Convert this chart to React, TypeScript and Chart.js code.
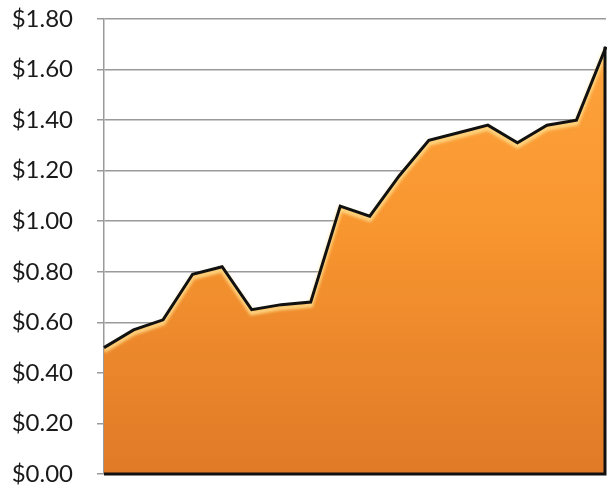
import React, { useEffect, useRef } from "react";
import { Chart, registerables } from "chart.js";

Chart.register(...registerables);

const categories = ["1", "2", "3", "4", "5", "6", "7", "8", "9", "10", "11", "12", "13", "14", "15", "16", "17", "18"];
const prices = [0.5, 0.57, 0.61, 0.79, 0.82, 0.65, 0.67, 0.68, 1.06, 1.02, 1.18, 1.32, 1.35, 1.38, 1.31, 1.38, 1.4, 1.69];
const yTicks = [0, 0.2, 0.4, 0.6, 0.8, 1.0, 1.2, 1.4, 1.6, 1.8];

const edgePlugin = {
  id: "edgePlugin",
  beforeDatasetDraw(chart: any, args: any) {
    if (args.index === 1) {
      const ctx = chart.ctx;
      ctx.save();
      const a = chart.chartArea;
      ctx.beginPath();
      ctx.rect(a.left, a.top, a.right - a.left, a.bottom - a.top);
      ctx.clip();
      ctx.translate(0, 3);
      ctx.filter = "blur(1.5px)";
    }
  },
  afterDatasetDraw(chart: any, args: any) {
    if (args.index === 1) {
      chart.ctx.restore();
    }
  },
  afterDatasetsDraw(chart: any) {
    const meta = chart.getDatasetMeta(0);
    const pts = meta.data;
    if (!pts || pts.length === 0) return;
    const first = pts[0];
    const last = pts[pts.length - 1];
    const y0 = chart.scales.y.getPixelForValue(0);
    const ctx = chart.ctx;
    ctx.save();
    ctx.strokeStyle = "#111";
    ctx.lineWidth = 3;
    ctx.lineJoin = "miter";
    ctx.beginPath();
    ctx.moveTo(last.x - 1, last.y);
    ctx.lineTo(last.x - 1, y0);
    ctx.lineTo(first.x, y0);
    ctx.stroke();
    ctx.restore();
  },
};

export default function App() {
  const ref = useRef<HTMLCanvasElement | null>(null);
  useEffect(() => {
    document.body.style.margin = "0";
    const canvas = ref.current;
    if (!canvas) return;
    const chart = new Chart(canvas, {
      type: "line",
      data: {
        labels: categories,
        datasets: [
          {
            data: prices,
            borderColor: "#111",
            borderWidth: 3,
            pointRadius: 0,
            tension: 0,
            fill: "origin",
            backgroundColor: (c: any) => {
              const a = c.chart.chartArea;
              if (!a) return "#f59432";
              const g = c.chart.ctx.createLinearGradient(0, a.top, 0, a.bottom);
              g.addColorStop(0, "#ffa53f");
              g.addColorStop(0.45, "#f8962f");
              g.addColorStop(1, "#e07a28");
              return g;
            },
          },
          {
            data: prices,
            borderColor: "rgba(255,222,140,0.85)",
            borderWidth: 5,
            pointRadius: 0,
            tension: 0,
            fill: false,
          },
        ],
      },
      options: {
        animation: false,
        responsive: false,
        devicePixelRatio: 1,
        layout: { padding: { top: 19, right: 1, bottom: 11, left: 0 } },
        plugins: {
          legend: { display: false },
          tooltip: { enabled: false },
          filler: { drawTime: "beforeDatasetsDraw" },
        } as any,
        scales: {
          x: {
            display: false,
            offset: false,
          },
          y: {
            min: 0,
            max: 1.8,
            afterBuildTicks: (s: any) => {
              s.ticks = yTicks.map((v) => ({ value: v }));
            },
            afterFit: (s: any) => {
              s.width = 104;
              s.paddingTop = 0;
              s.paddingBottom = 0;
            },
            ticks: {
              padding: 24,
              color: "#1a1a1a",
              font: { family: "Lato", size: 24 },
              callback: (v: any) => "$" + Number(v).toFixed(2),
            },
            grid: {
              color: "#9a9a9a",
              lineWidth: 1.5,
              tickLength: 7,
            },
            border: { color: "#9a9a9a", width: 1.5 },
          },
        },
      },
      plugins: [edgePlugin],
    });
    return () => chart.destroy();
  }, []);
  return (
    <div style={{ position: "absolute", left: 0, top: 0, width: 607, height: 485 }}>
      <canvas ref={ref} width={607} height={485} style={{ display: "block" }} />
    </div>
  );
}
